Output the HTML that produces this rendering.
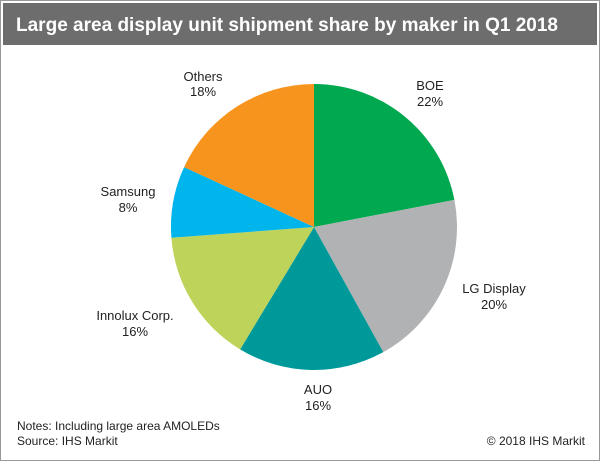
<!DOCTYPE html>
<html><head><style>
body{margin:0;background:#fff;}
svg{display:block;font-family:"Liberation Sans",sans-serif;}
</style></head><body>
<svg width="600" height="461" viewBox="0 0 600 461">
<rect x="0.5" y="0.5" width="599" height="460" fill="#fff" stroke="#999"/>
<rect x="3" y="3" width="594" height="42" fill="#6d6d6d"/>
<text x="16" y="31" fill="#fff" font-size="19.5" font-weight="bold" textLength="542" lengthAdjust="spacingAndGlyphs">Large area display unit shipment share by maker in Q1 2018</text>
<g transform="translate(314,227)">
<path d="M0,0 L0,-143 A143,143 0 0 1 140.4,-27.1 Z" fill="#00a94f"/>
<path d="M0,0 L140.4,-27.1 A143,143 0 0 1 69.3,125.1 Z" fill="#b1b2b4"/>
<path d="M0,0 L69.3,125.1 A143,143 0 0 1 -73.9,122.4 Z" fill="#009999"/>
<path d="M0,0 L-73.9,122.4 A143,143 0 0 1 -142.6,10.8 Z" fill="#bed35a"/>
<path d="M0,0 L-142.6,10.8 A143,143 0 0 1 -129.9,-59.9 Z" fill="#00b4ec"/>
<path d="M0,0 L-129.9,-59.9 A143,143 0 0 1 0,-143 Z" fill="#f7941d"/>
</g>
<g font-size="13" fill="#222" text-anchor="middle">
<text x="203" y="81">Others</text><text x="203" y="96">18%</text>
<text x="430" y="90">BOE</text><text x="430" y="106">22%</text>
<text x="128" y="196">Samsung</text><text x="128" y="212">8%</text>
<text x="494" y="293">LG Display</text><text x="494" y="309">20%</text>
<text x="135" y="320">Innolux Corp.</text><text x="135" y="336">16%</text>
<text x="318" y="394">AUO</text><text x="318" y="410">16%</text>
</g>
<g font-size="12" fill="#222">
<text x="17" y="430">Notes: Including large area AMOLEDs</text>
<text x="17" y="445">Source: IHS Markit</text>
<text x="585" y="445" text-anchor="end">© 2018 IHS Markit</text>
</g>
</svg>
</body></html>
